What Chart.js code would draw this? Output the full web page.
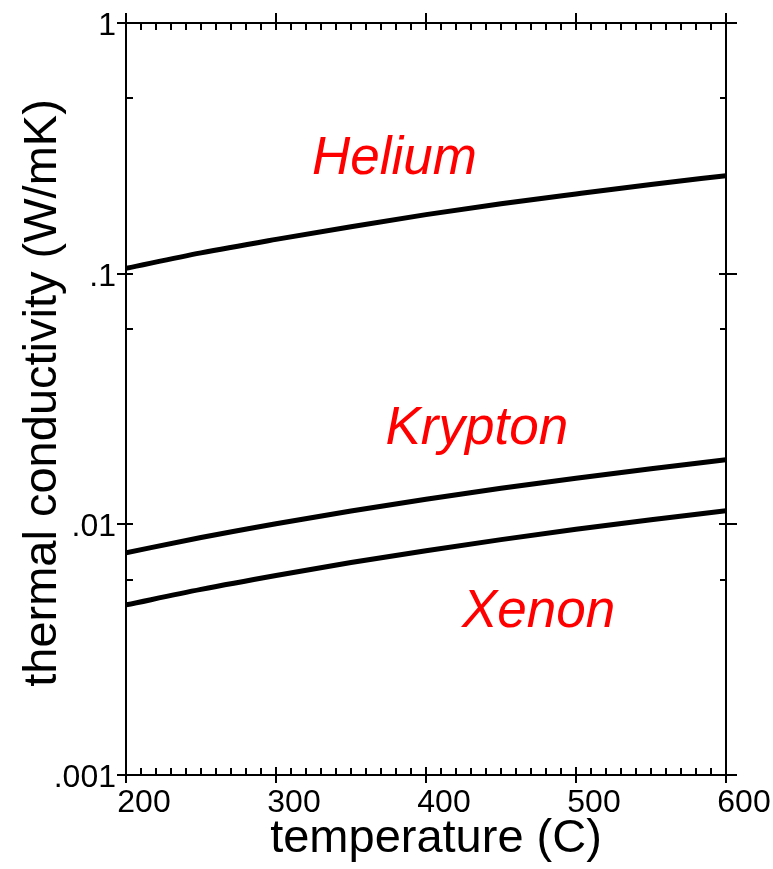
<!DOCTYPE html>
<html>
<head>
<meta charset="utf-8">
<script src="https://cdn.jsdelivr.net/npm/chart.js@4.4.1/dist/chart.umd.min.js"></script>
<style>
  html, body { margin: 0; padding: 0; background: #fff; }
  #wrap { width: 773px; height: 869px; }
</style>
</head>
<body>
<div id="wrap"><canvas id="kChart"></canvas></div>
<script>
    // thermal conductivity (W/mK) against temperature (C)
    const temperatures = [200, 250, 300, 350, 400, 450, 500, 550, 600];
    const helium = [0.105, 0.121, 0.137, 0.154, 0.172, 0.190, 0.208, 0.227, 0.246];
    const krypton = [0.0077, 0.00886, 0.01006, 0.01131, 0.0126, 0.01392, 0.01528, 0.01667, 0.0181];
    const xenon = [0.00477, 0.0055, 0.00625, 0.00704, 0.00785, 0.00869, 0.00955, 0.01043, 0.01134];

    const xMajorTicks = [200, 300, 400, 500, 600];
    const xTickLabels = ['200', '300', '400', '500', '600'];
    const xMinorStep = 10;
    const yMajorTicks = [1, 0.1, 0.01, 0.001];
    const yTickLabels = ['1', '.1', '.01', '.001'];
    const yMinorTicks = [0.5, 0.06, 0.006];

    const gasNames = ['Helium', 'Krypton', 'Xenon'];
    const gasNameAt = [[324, 0.25], [373, 0.0209], [424, 0.0039]];

    const FONT = '"Liberation Sans", Arial, Helvetica, sans-serif';

    function series(values) {
        return temperatures.map((t, i) => ({ x: t, y: values[i] }));
    }

    function line(label, values) {
        return {
            label: label,
            data: series(values),
            borderColor: '#000',
            borderWidth: 5,
            pointRadius: 0,
            tension: 0.4,
            cubicInterpolationMode: 'monotone',
            fill: false
        };
    }

    // box frame, in/out ticks, tick labels, axis titles and gas names
    const framePlugin = {
        id: 'frame',
        afterDatasetsDraw(chart) {
            const { ctx, chartArea: a, scales } = chart;
            const xs = scales.x, ys = scales.y;
            ctx.save();
            ctx.strokeStyle = '#000';
            ctx.lineWidth = 2;
            ctx.beginPath();
            ctx.rect(a.left, a.top, a.right - a.left, a.bottom - a.top);

            for (let v = xMajorTicks[0]; v <= xMajorTicks[xMajorTicks.length - 1]; v += xMinorStep) {
                const px = Math.round(xs.getPixelForValue(v));
                if (xMajorTicks.includes(v)) {
                    ctx.moveTo(px, a.bottom - 8); ctx.lineTo(px, a.bottom + 8);
                    ctx.moveTo(px, a.top - 10); ctx.lineTo(px, a.top + 7);
                } else {
                    ctx.moveTo(px, a.bottom - 7); ctx.lineTo(px, a.bottom);
                    ctx.moveTo(px, a.top); ctx.lineTo(px, a.top + 7);
                }
            }
            yMajorTicks.forEach(v => {
                const py = Math.round(ys.getPixelForValue(v));
                ctx.moveTo(a.left - 9, py); ctx.lineTo(a.left + 7, py);
                ctx.moveTo(a.right - 7, py); ctx.lineTo(a.right + 11, py);
            });
            yMinorTicks.forEach(v => {
                const py = Math.round(ys.getPixelForValue(v));
                ctx.moveTo(a.left, py); ctx.lineTo(a.left + 7, py);
                ctx.moveTo(a.right - 6, py); ctx.lineTo(a.right, py);
            });
            ctx.stroke();

            ctx.fillStyle = '#000';
            ctx.font = '32px ' + FONT;
            ctx.textAlign = 'center';
            ctx.textBaseline = 'alphabetic';
            xMajorTicks.forEach((v, i) => {
                ctx.fillText(xTickLabels[i], xs.getPixelForValue(v) + 18, a.bottom + 37);
            });
            ctx.textAlign = 'right';
            yMajorTicks.forEach((v, i) => {
                ctx.fillText(yTickLabels[i], a.left - 10, ys.getPixelForValue(v) + 12);
            });

            ctx.font = '47px ' + FONT;
            ctx.textAlign = 'center';
            ctx.fillText('temperature (C)', 436, 852);
            ctx.save();
            ctx.translate(56, 393);
            ctx.rotate(-Math.PI / 2);
            ctx.fillText('thermal conductivity (W/mK)', 0, 0);
            ctx.restore();

            ctx.fillStyle = '#ff0000';
            ctx.font = 'italic 53px ' + FONT;
            ctx.textAlign = 'left';
            gasNames.forEach((name, i) => {
                const [t, k] = gasNameAt[i];
                ctx.fillText(name, xs.getPixelForValue(t), ys.getPixelForValue(k));
            });
            ctx.restore();
        }
    };

    new Chart(document.getElementById('kChart'), {
        type: 'line',
        data: {
            datasets: [
                line('Helium', helium),
                line('Krypton', krypton),
                line('Xenon', xenon)
            ]
        },
        options: {
            responsive: true,
            maintainAspectRatio: false,
            animation: false,
            devicePixelRatio: 1,
            layout: { padding: { left: 126, right: 47, top: 23, bottom: 94 } },
            plugins: { legend: { display: false }, tooltip: { enabled: false } },
            scales: {
                x: { type: 'linear', min: 200, max: 600, display: false },
                y: { type: 'logarithmic', min: 0.001, max: 1, display: false }
            }
        },
        plugins: [framePlugin]
    });
</script>
</body>
</html>
